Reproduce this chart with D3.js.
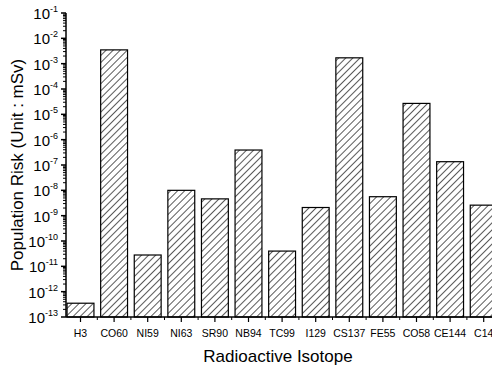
<!DOCTYPE html>
<html>
<head>
<meta charset="utf-8">
<script src="https://cdn.jsdelivr.net/npm/d3@7"></script>
<style>
body { margin: 0; background: #fff; }
text { font-family: "Liberation Sans", Arial, sans-serif; }
</style>
</head>
<body>
<svg id="chart"></svg>
<script>
var isotopes = ["H3", "CO60", "NI59", "NI63", "SR90", "NB94", "TC99", "I129", "CS137", "FE55", "CO58", "CE144", "C14"];
var risk = [3.5e-13, 3.5e-3, 2.8e-11, 1.0e-8, 4.6e-9, 3.9e-7, 4.0e-11, 2.1e-9, 1.7e-3, 5.6e-9, 2.7e-5, 1.35e-7, 2.6e-9];
var decades = [-13, -12, -11, -10, -9, -8, -7, -6, -5, -4, -3, -2, -1];

var width = 492, height = 367;
var axisLeft = 66, axisTop = 13, axisBottom = 317;

var svg = d3.select("#chart").attr("width", width).attr("height", height);

// hatch pattern
var pat = svg.append("defs").append("pattern")
    .attr("id", "hatch")
    .attr("patternUnits", "userSpaceOnUse")
    .attr("width", 5).attr("height", 5)
    .attr("patternTransform", "rotate(45)");
pat.append("line")
    .attr("x1", 0).attr("y1", 0).attr("x2", 0).attr("y2", 5)
    .attr("stroke", "#000").attr("stroke-width", 1.3);

var x = d3.scaleBand()
    .domain(isotopes)
    .range([63.7, 63.7 + 13 * 33.6])
    .paddingInner(0.2).paddingOuter(0.1);

var y = d3.scaleLog()
    .domain([1e-13, 1e-1])
    .range([axisBottom, axisTop]);

var data = isotopes.map(function(d, i){ return {name: d, value: risk[i]}; });

// bars
svg.selectAll(".bar")
    .data(data)
    .enter().append("rect")
    .attr("class", "bar")
    .attr("x", function(d){ return x(d.name); })
    .attr("width", x.bandwidth())
    .attr("y", function(d){ return y(d.value); })
    .attr("height", function(d){ return axisBottom - y(d.value); })
    .attr("fill", "url(#hatch)")
    .attr("stroke", "#000")
    .attr("stroke-width", 1.2);

// y axis
var yAxis = svg.append("g");
yAxis.append("line")
    .attr("x1", axisLeft).attr("x2", axisLeft)
    .attr("y1", axisTop).attr("y2", axisBottom)
    .attr("stroke", "#000").attr("stroke-width", 1.5);

var minors = [];
decades.forEach(function(e){
    if (e < -1) for (var m = 2; m < 10; m++) minors.push(m * Math.pow(10, e));
});
yAxis.selectAll(".minor").data(minors).enter().append("line")
    .attr("x1", axisLeft - 3).attr("x2", axisLeft)
    .attr("y1", function(d){ return y(d); })
    .attr("y2", function(d){ return y(d); })
    .attr("stroke", "#000").attr("stroke-width", 1);

yAxis.selectAll(".major").data(decades).enter().append("line")
    .attr("x1", axisLeft - 5).attr("x2", axisLeft)
    .attr("y1", function(d){ return y(Math.pow(10, d)); })
    .attr("y2", function(d){ return y(Math.pow(10, d)); })
    .attr("stroke", "#000").attr("stroke-width", 1.5);

var lab = yAxis.selectAll(".lab").data(decades).enter().append("text")
    .attr("x", 58)
    .attr("y", function(d){ return y(Math.pow(10, d)) + 6; })
    .attr("text-anchor", "end")
    .style("font-size", "15px");
lab.append("tspan").text("10");
lab.append("tspan")
    .attr("dy", -7)
    .style("font-size", "9px")
    .text(function(d){ return "-" + Math.abs(d); });

// x axis
var xAxis = svg.append("g");
xAxis.append("line")
    .attr("x1", axisLeft).attr("x2", width)
    .attr("y1", axisBottom).attr("y2", axisBottom)
    .attr("stroke", "#000").attr("stroke-width", 1.5);

xAxis.selectAll(".tick").data(isotopes).enter().append("line")
    .attr("x1", function(d){ return x(d) + x.bandwidth() / 2; })
    .attr("x2", function(d){ return x(d) + x.bandwidth() / 2; })
    .attr("y1", axisBottom).attr("y2", axisBottom + 5)
    .attr("stroke", "#000").attr("stroke-width", 1.2);

xAxis.selectAll(".mtick").data(isotopes.slice(1)).enter().append("line")
    .attr("x1", function(d){ return x(d) - x.step() * 0.1; })
    .attr("x2", function(d){ return x(d) - x.step() * 0.1; })
    .attr("y1", axisBottom).attr("y2", axisBottom + 3)
    .attr("stroke", "#000").attr("stroke-width", 1);

xAxis.selectAll(".xlab").data(isotopes).enter().append("text")
    .attr("x", function(d){ return x(d) + x.bandwidth() / 2; })
    .attr("y", 337)
    .attr("text-anchor", "middle")
    .style("font-size", "10.5px")
    .text(function(d){ return d; });

// titles
svg.append("text")
    .attr("x", 278).attr("y", 362)
    .attr("text-anchor", "middle")
    .style("font-size", "17px")
    .text("Radioactive Isotope");

svg.append("text")
    .attr("transform", "translate(23,165) rotate(-90)")
    .attr("text-anchor", "middle")
    .style("font-size", "17px")
    .text("Population Risk (Unit : mSv)");
</script>
</body>
</html>
